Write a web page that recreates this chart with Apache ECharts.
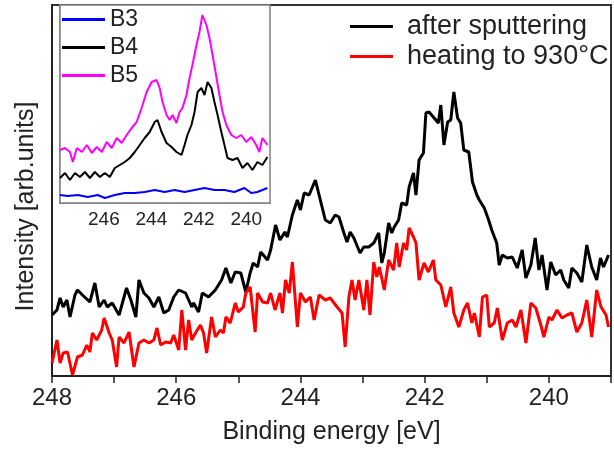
<!DOCTYPE html>
<html>
<head>
<meta charset="utf-8">
<script src="https://cdn.jsdelivr.net/npm/echarts@6/dist/echarts.min.js"></script>
<style>
html,body{margin:0;padding:0;background:#fff;}
#chart{width:614px;height:450px;}
</style>
</head>
<body>
<div id="chart"></div>
<script>
// ---- Main plot data (Binding energy [eV] vs intensity [arb. units]) ----
const afterSputteringEnergy = [
248.00,247.92,247.87,247.82,247.76,247.71,247.63,247.59,247.51,247.39,
247.31,247.24,247.16,247.11,247.03,246.92,246.80,246.73,246.65,246.60,
246.52,246.44,246.36,246.28,246.20,246.12,246.04,245.96,245.85,245.75,
245.72,245.64,245.58,245.48,245.37,245.27,245.20,245.12,245.05,244.96,
244.88,244.81,244.76,244.69,244.64,244.53,244.48,244.40,244.33,244.25,
244.21,244.13,244.05,244.00,243.94,243.86,243.76,243.68,243.60,243.52,
243.44,243.38,243.30,243.25,243.20,243.14,243.04,242.98,242.90,242.82,
242.74,242.69,242.65,242.58,242.53,242.49,242.42,242.37,242.29,242.25,
242.18,242.14,242.09,242.02,241.98,241.93,241.86,241.78,241.74,241.69,
241.63,241.58,241.53,241.47,241.42,241.37,241.29,241.23,241.16,241.12,
241.04,240.97,240.92,240.84,240.80,240.75,240.67,240.59,240.51,240.43,
240.37,240.29,240.22,240.16,240.11,240.03,239.97,239.89,239.81,239.76,
239.68,239.63,239.55,239.47,239.39,239.31,239.23,239.17,239.12,239.04];
const afterSputteringIntensity = [
61,66,78,69,76,59,81,86,81,74,
93,69,76,69,73,61,88,76,59,96,
83,78,69,79,63,66,79,86,83,69,
73,64,83,79,86,96,108,93,104,103,
84,103,113,109,124,116,126,151,136,144,
139,161,176,166,183,181,196,176,156,153,
161,159,143,134,144,138,123,129,129,133,
143,113,123,153,143,149,156,173,171,189,
203,181,216,223,263,264,259,253,271,231,
254,256,284,258,253,226,224,194,181,176,
168,156,146,133,111,121,118,119,108,126,
98,111,138,106,121,86,114,101,106,96,
88,108,103,94,131,109,96,118,109,121];

const heatingEnergy = [
248.00,247.92,247.87,247.82,247.75,247.67,247.59,247.51,247.44,247.39,
247.35,247.28,247.20,247.16,247.08,247.03,246.96,246.92,246.84,246.76,
246.68,246.60,246.52,246.44,246.36,246.31,246.25,246.17,246.09,246.04,
245.96,245.91,245.85,245.80,245.75,245.69,245.61,245.56,245.51,245.43,
245.37,245.29,245.24,245.20,245.13,245.05,245.00,244.92,244.88,244.81,
244.73,244.69,244.61,244.53,244.48,244.41,244.33,244.29,244.24,244.18,
244.13,244.05,244.00,243.92,243.84,243.78,243.70,243.60,243.52,243.41,
243.33,243.28,243.22,243.17,243.12,243.06,242.98,242.93,242.88,242.82,
242.77,242.73,242.65,242.58,242.50,242.45,242.41,242.34,242.29,242.25,
242.18,242.14,242.09,242.01,241.94,241.86,241.82,241.74,241.66,241.58,
241.53,241.45,241.37,241.31,241.24,241.20,241.12,241.07,241.00,240.96,
240.88,240.83,240.75,240.67,240.59,240.53,240.45,240.37,240.29,240.21,
240.13,240.08,240.00,239.95,239.87,239.79,239.71,239.63,239.55,239.47,
239.39,239.31,239.23,239.16,239.08,239.04];
const heatingIntensity = [
13,36,13,23,24,1,19,21,31,24,
43,36,46,58,43,36,9,39,33,44,
9,33,36,33,36,48,31,34,33,41,
26,66,26,56,36,43,51,43,23,59,
39,46,43,59,53,73,64,69,83,89,
44,83,74,73,83,66,83,63,96,83,
114,49,83,74,79,56,81,76,78,69,
63,29,79,96,76,96,66,96,61,114,
99,109,86,116,106,133,109,133,126,148,
139,133,96,113,104,116,96,91,69,89,
63,49,66,73,53,63,39,79,81,49,
53,68,36,53,56,49,66,33,73,68,
51,39,59,56,66,58,61,63,44,53,
76,39,86,69,61,49];

// ---- Inset data ----
const b3Energy = [247.85,247.52,247.10,246.68,246.26,245.96,245.54,245.12,244.70,244.28,243.86,243.44,243.02,242.60,242.18,241.76,241.34,240.92,240.50,240.08,239.79,239.53,239.11];
const b3Intensity = [8,7,8,6,8,5,8,10,10,11,13,11,13,11,13,15,13,13,11,15,10,11,15];

const b4Energy = [
247.85,247.64,247.43,247.22,247.01,246.80,246.59,246.38,246.17,245.96,
245.75,245.54,245.33,245.12,244.91,244.70,244.49,244.28,244.07,243.86,
243.74,243.57,243.36,243.15,242.94,242.73,242.60,242.48,242.31,242.18,
242.05,241.89,241.76,241.63,241.47,241.34,241.21,241.05,240.92,240.79,
240.58,240.37,240.16,239.95,239.74,239.53,239.32,239.11];
const b4Intensity = [
25,30,23,30,26,31,25,31,26,30,
26,35,38,41,45,51,58,65,71,81,
83,71,60,56,51,48,58,68,78,91,
111,115,108,121,115,101,88,71,58,45,
43,45,35,40,33,41,38,46];

const b5Energy = [
247.85,247.64,247.43,247.31,247.14,246.93,246.72,246.51,246.30,246.09,
245.88,245.67,245.46,245.25,245.04,244.83,244.62,244.41,244.20,243.99,
243.78,243.65,243.53,243.36,243.23,243.11,242.94,242.81,242.69,242.52,
242.39,242.27,242.10,241.97,241.85,241.68,241.55,241.42,241.26,241.13,
241.00,240.84,240.63,240.42,240.21,240.00,239.79,239.58,239.45,239.32,
239.11];
const b5Intensity = [
53,55,51,41,55,51,58,50,56,51,
61,55,65,60,68,75,81,95,111,121,
123,115,101,88,83,88,80,91,95,108,
125,138,158,171,188,178,165,148,126,108,
91,78,68,65,68,61,66,58,51,65,
58];

const mainTickLabels = [240, 242, 244, 246, 248];
const insetTickLabels = [240, 242, 244, 246];

const zip = (xs, ys) => xs.map((x, i) => [x, ys[i]]);
const FONT = "'Liberation Sans', Arial, sans-serif";
const TXT = '#222';

const chart = echarts.init(document.getElementById('chart'), null, {renderer: 'canvas'});
chart.setOption({
  animation: false,
  backgroundColor: '#fff',
  textStyle: {fontFamily: FONT},
  grid: [
    {left: 52, top: 5, width: 565, height: 371, show: true, borderColor: '#333', borderWidth: 2, backgroundColor: 'transparent'},
    {left: 60, top: 5, width: 210, height: 198, show: true, borderColor: '#808080', borderWidth: 1.5, backgroundColor: '#fff', z: 3}
  ],
  legend: [
    {
      data: ['after sputtering', 'heating to 930°C'],
      orient: 'vertical', left: 350, top: 13, itemWidth: 43, itemHeight: 3, itemGap: 3,
      icon: 'rect', padding: 0,
      textStyle: {fontSize: 27, color: TXT, fontFamily: FONT, padding: [0, 0, 0, 9]}
    },
    {
      data: ['B3', 'B4', 'B5'],
      orient: 'vertical', left: 62, top: 8, itemWidth: 43, itemHeight: 3, itemGap: 5,
      icon: 'rect', padding: 0, z: 10,
      textStyle: {fontSize: 23, color: TXT, fontFamily: FONT}
    }
  ],
  xAxis: [
    {
      gridIndex: 0, type: 'value', min: 239, max: 248, interval: 1, inverse: true,
      name: 'Binding energy [eV]', nameLocation: 'middle', nameGap: 44,
      nameTextStyle: {fontSize: 25, color: TXT, fontFamily: FONT},
      axisLine: {lineStyle: {color: '#222', width: 2}},
      axisTick: {show: true, length: 7, lineStyle: {color: '#222', width: 1.5}},
      axisLabel: {fontSize: 24, color: TXT, margin: 10, fontFamily: FONT,
        formatter: v => mainTickLabels.includes(Math.round(v * 100) / 100) ? String(v) : ''},
      splitLine: {show: false}
    },
    {
      gridIndex: 1, type: 'value', min: 239, max: 247.85, interval: 1, inverse: true,
      axisLine: {lineStyle: {color: '#808080', width: 1.5}},
      axisTick: {show: true, inside: true, length: 4, lineStyle: {color: '#808080', width: 1}},
      axisLabel: {fontSize: 19, color: TXT, margin: 7, fontFamily: FONT, showMinLabel: false, showMaxLabel: false,
        formatter: v => insetTickLabels.includes(Math.round(v * 100) / 100) ? String(v) : ''},
      splitLine: {show: false}
    }
  ],
  yAxis: [
    {
      gridIndex: 0, type: 'value', min: 0, max: 371,
      name: 'Intensity [arb.units]', nameLocation: 'middle', nameGap: 13,
      nameTextStyle: {fontSize: 25, color: TXT, fontFamily: FONT, padding: [0, 32, 0, 0]},
      axisLine: {show: true, lineStyle: {color: '#222', width: 2}},
      axisTick: {show: false}, axisLabel: {show: false}, splitLine: {show: false}
    },
    {
      gridIndex: 1, type: 'value', min: 0, max: 198,
      axisLine: {show: true, lineStyle: {color: '#808080', width: 1.5}},
      axisTick: {show: false}, axisLabel: {show: false}, splitLine: {show: false}
    }
  ],
  series: [
    {name: 'after sputtering', type: 'line', xAxisIndex: 0, yAxisIndex: 0, data: zip(afterSputteringEnergy, afterSputteringIntensity),
      showSymbol: false, symbol: 'none', lineStyle: {color: '#000', width: 3}, itemStyle: {color: '#000'}, z: 2},
    {name: 'heating to 930°C', type: 'line', xAxisIndex: 0, yAxisIndex: 0, data: zip(heatingEnergy, heatingIntensity),
      showSymbol: false, symbol: 'none', lineStyle: {color: '#ff0000', width: 3}, itemStyle: {color: '#ff0000'}, z: 2},
    {name: 'B3', type: 'line', xAxisIndex: 1, yAxisIndex: 1, data: zip(b3Energy, b3Intensity),
      showSymbol: false, symbol: 'none', lineStyle: {color: '#0000ff', width: 2}, itemStyle: {color: '#0000ff'}, z: 5},
    {name: 'B4', type: 'line', xAxisIndex: 1, yAxisIndex: 1, data: zip(b4Energy, b4Intensity),
      showSymbol: false, symbol: 'none', lineStyle: {color: '#000', width: 2}, itemStyle: {color: '#000'}, z: 5},
    {name: 'B5', type: 'line', xAxisIndex: 1, yAxisIndex: 1, data: zip(b5Energy, b5Intensity),
      showSymbol: false, symbol: 'none', lineStyle: {color: '#ff00ff', width: 2}, itemStyle: {color: '#ff00ff'}, z: 5}
  ]
});
</script>
</body>
</html>
